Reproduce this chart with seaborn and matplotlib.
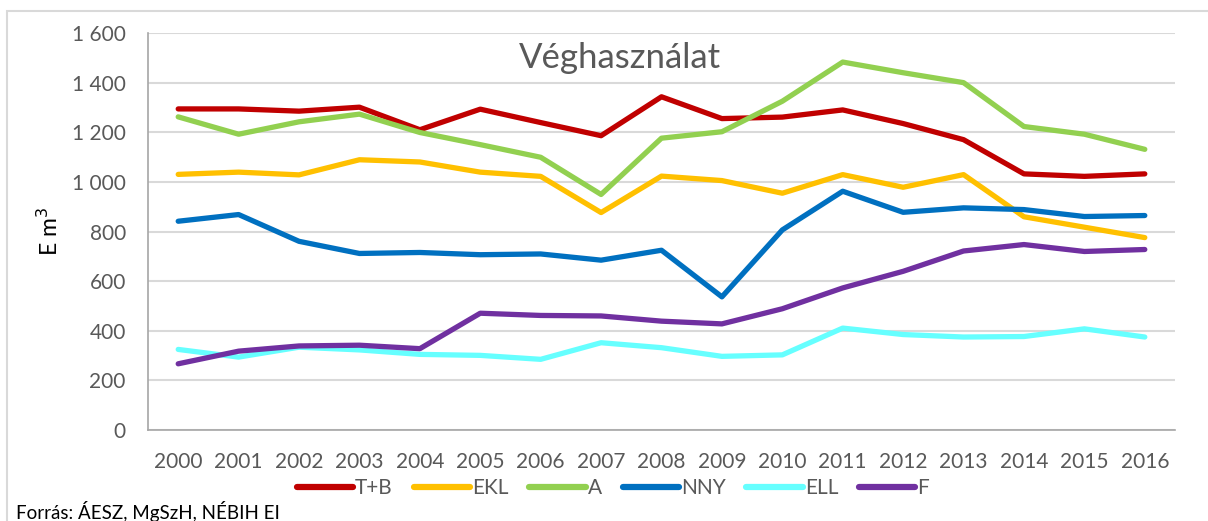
import seaborn as sns
import pandas as pd
import matplotlib.pyplot as plt
from matplotlib.patches import Rectangle

years = list(range(2000, 2017))
series = ["T+B", "EKL", "A", "NNY", "ELL", "F"]

tb = [1295, 1295, 1286, 1302, 1211, 1294, 1240, 1187, 1344, 1256, 1262, 1291, 1236, 1171, 1033, 1023, 1033]
ekl = [1031, 1040, 1029, 1090, 1081, 1040, 1023, 877, 1024, 1006, 955, 1030, 979, 1030, 860, 818, 776]
a = [1263, 1193, 1243, 1274, 1200, 1151, 1100, 950, 1177, 1203, 1326, 1484, 1441, 1401, 1224, 1193, 1132]
nny = [842, 869, 761, 712, 716, 707, 710, 685, 725, 537, 807, 963, 878, 896, 889, 861, 865]
ell = [325, 294, 334, 323, 305, 301, 285, 352, 332, 297, 303, 411, 385, 375, 377, 408, 375]
f = [267, 318, 339, 342, 328, 471, 462, 460, 439, 428, 489, 573, 640, 722, 748, 720, 728]

colors = ["#C00000", "#FFC000", "#92D050", "#0070C0", "#66FFFF", "#7030A0"]

df = pd.DataFrame({"year": years, "T+B": tb, "EKL": ekl, "A": a, "NNY": nny, "ELL": ell, "F": f})
long = df.melt(id_vars="year", var_name="sorozat", value_name="ertek")

sns.set_style("white")
plt.rcParams["font.family"] = ["Lato", "DejaVu Sans"]
gray = "#595959"

fig = plt.figure(figsize=(12.08, 5.21), dpi=100)
ax = fig.add_axes([148 / 1208, 1 - 430 / 521, (1175 - 148) / 1208, (430 - 33.3) / 521])

sns.lineplot(data=long, x="year", y="ertek", hue="sorozat", hue_order=series,
             palette=colors, linewidth=3.8, ax=ax, legend=True)

ax.set_xlim(1999.5, 2016.5)
ax.set_ylim(0, 1600)
ax.set_yticks(range(0, 1601, 200))
ax.set_yticklabels([f"{v:,}".replace(",", " ") for v in range(0, 1601, 200)])
ax.yaxis.grid(True, color="#D9D9D9", linewidth=1.5)
ax.set_axisbelow(True)

# ticks at category borders, labels at centres
ax.set_xticks([y - 0.5 for y in years] + [2016.5])
ax.set_xticklabels([])
ax.set_xticks(years, minor=True)
ax.set_xticklabels([str(y) for y in years], minor=True)
ax.tick_params(axis="x", which="major", direction="out", length=7, width=1.2, color="#A6A6A6")
ax.tick_params(axis="x", which="minor", length=0, pad=16, labelsize=15, labelcolor=gray)
ax.tick_params(axis="y", direction="out", length=7, width=1.2, color="#A6A6A6",
               labelsize=15, labelcolor=gray, pad=9)

for s in ["top", "right"]:
    ax.spines[s].set_visible(False)
for s in ["left", "bottom"]:
    ax.spines[s].set_color("#A6A6A6")
    ax.spines[s].set_linewidth(1.2)

ax.set_xlabel("")
ax.set_ylabel("E m$^3$", fontsize=16.5, color="black", labelpad=7)
ax.text(0.46, 0.938, "Véghasználat", transform=ax.transAxes, ha="center", va="center",
        fontsize=25, color=gray)

sns.move_legend(ax, "center", bbox_to_anchor=(613 / 1208, 1 - 488 / 521),
                bbox_transform=fig.transFigure, ncol=6, frameon=False, title=None,
                fontsize=15, handlelength=2.7, handletextpad=0.1, columnspacing=1.0)
leg = ax.get_legend()
for line in leg.get_lines():
    line.set_linewidth(4.5)
    line.set_solid_capstyle("round")
for t in leg.get_texts():
    t.set_color(gray)

fig.text(16 / 1208, 1 - 511 / 521, "Forrás: ÁESZ, MgSzH, NÉBIH EI", ha="left", va="center",
         fontsize=13.5, color="black")

fig.patches.append(Rectangle((7 / 1208, -0.1), 1.2, 1 - 11 / 521 + 0.1, transform=fig.transFigure,
                             fill=False, edgecolor="#D9D9D9", linewidth=1.5))

fig.savefig("out.png", dpi=100)
